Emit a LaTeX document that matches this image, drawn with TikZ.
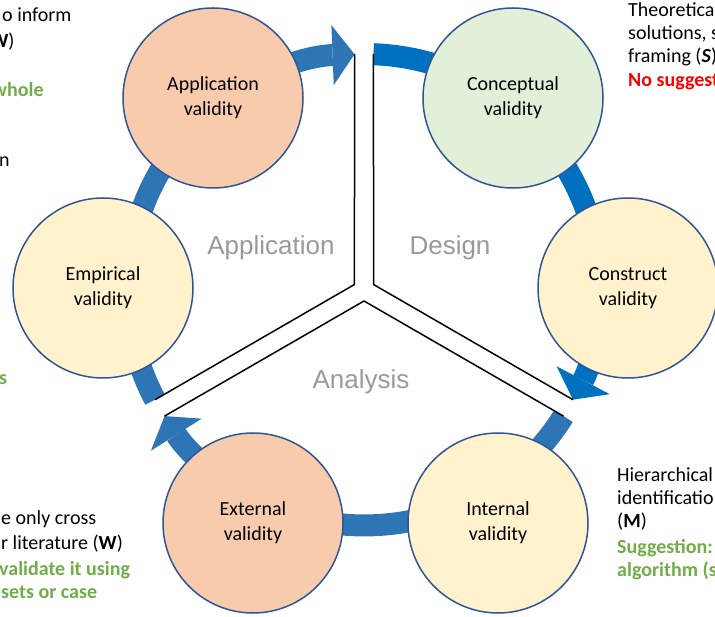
\documentclass[tikz,border=0pt]{standalone}
\usepackage{fontspec}
\setmainfont{Carlito}
\newfontfamily\lblfont{Liberation Sans}
\usetikzlibrary{calc,arrows.meta}
\definecolor{bandA}{HTML}{2E75B6}
\definecolor{bandD}{HTML}{0070C0}
\definecolor{rim}{HTML}{2F5597}
\definecolor{peach}{HTML}{F8CBAD}
\definecolor{mint}{HTML}{E2F0D9}
\definecolor{cream}{HTML}{FFF2CC}
\definecolor{leaf}{HTML}{70AD47}
\definecolor{sector}{HTML}{999999}
\tikzset{
  band/.style={line width=22pt, looseness=0.9},
  bandtip/.style={-{Triangle[width=60pt,length=22pt,line width=0pt]}},
  valid/.style={circle, draw=rim, line width=1.5pt, minimum size=180pt,
    align=center, font=\fontsize{20}{25}\selectfont},
  sect/.style={text=sector, font=\lblfont\fontsize{26}{30}\selectfont},
  note/.style={anchor=base west, inner sep=0pt, font=\fontsize{20}{24}\selectfont},
  hint/.style={note, text=leaf, font=\bfseries\fontsize{20}{24}\selectfont}
}
\begin{document}
\begin{tikzpicture}[x=1pt,y=1pt]
  \useasboundingbox (0,0) rectangle (715,616);
  \clip (0,0) rectangle (715,616);
  \def\ringr{236pt}
  \coordinate (o) at (364,326);
  % points on the ring
  \coordinate (topL) at ($(o)+(92.3:\ringr)$);
  \coordinate (topR) at ($(o)+(87.7:\ringr)$);
  \coordinate (brU) at ($(o)+(-27.7:\ringr)$);
  \coordinate (brL) at ($(o)+(-32.3:\ringr)$);
  \coordinate (blL) at ($(o)+(-147.7:\ringr)$);
  \coordinate (blU) at ($(o)+(-152.3:\ringr)$);
  \coordinate (emp-r) at ($(o)+(180:\ringr)$);
  \coordinate (app-r) at ($(o)+(130:\ringr)$);
  \coordinate (con-r) at ($(o)+(50:\ringr)$);
  \coordinate (cst-r) at ($(o)+(0:\ringr)$);
  \coordinate (int-r) at ($(o)+(-60:\ringr)$);
  \coordinate (ext-r) at ($(o)+(-120:\ringr)$);
  % corners of the Y
  \coordinate (yL) at ($(o)+(150:11pt)$);
  \coordinate (yR) at ($(o)+(30:11pt)$);
  \coordinate (yB) at ($(o)+(-90:11pt)$);

  % the three arcs
  \draw[band, bandA, bandtip] (blU) to[bend left=13.85] (emp-r)
    to[bend left=25] (app-r) to[bend left=18.85] (topL);
  \draw[band, bandD, bandtip] (topR) to[bend left=18.85] (con-r)
    to[bend left=25] (cst-r) to[bend left=13.85] (brU);
  \draw[band, bandA, bandtip] (brL) to[bend left=13.85] (int-r)
    to[bend left=30] (ext-r) to[bend left=13.85] (blL);

  % dividers
  \draw[line width=1.5pt] (topL) -- (yL) -- (blU);
  \draw[line width=1.5pt] (topR) -- (yR) -- (brU);
  \draw[line width=1.5pt] (blL) -- (yB) -- (brL);

  % the six validities
  \node[valid, fill=peach] (app) at (213,518) {Application\\validity};
  \node[valid, fill=mint] (concept) at (513,518) {Conceptual\\validity};
  \node[valid, fill=cream] (construct) at (628,328) {Construct\\validity};
  \node[valid, fill=cream] (internal) at (498,93) {Internal\\validity};
  \node[valid, fill=peach] (external) at (253,93) {External\\validity};
  \node[valid, fill=cream] (empirical) at (103,328) {Empirical\\validity};

  \node[sect] (sApp) at (271,368) {Application};
  \node[sect] (sDes) at (450,368) {Design};
  \node[sect] (sAna) at (361,234) {Analysis};

  % side notes, cut by the page edge
  \node[note] (n1) at (2,594) {o inform};
  \node[note] (n2) at (-16,568) {(\textbf{W})};
  \node[hint] (n3) at (-8,519) {whole};
  \node[note] (n4) at (-1,449) {n};
  \node[hint] (n5) at (-1,231) {s};
  \node[note] (n6) at (1,91) {e only cross};
  \node[note] (n7) at (1,66) {r literature (\textbf{W})};
  \node[hint] (n8) at (-1,41) {validate it using};
  \node[hint] (n9) at (1,18) {sets or case};
  \node[note] (t1) at (628,599) {Theoretica};
  \node[note] (t2) at (628,576) {solutions, s};
  \node[note] (t3) at (628,553) {framing (\textbf{\textit{S}})};
  \node[hint, text=red] (t4) at (628,529) {No suggest};
  \node[note] (b1) at (617,134) {Hierarchical};
  \node[note] (b2) at (617,111) {identificatio};
  \node[note] (b3) at (617,88) {(\textbf{M})};
  \node[hint] (b4) at (617,63) {Suggestion:};
  \node[hint] (b5) at (617,39) {algorithm (s};
\end{tikzpicture}
\end{document}
